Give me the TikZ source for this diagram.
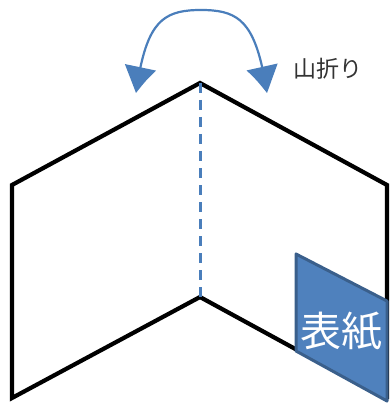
\documentclass[tikz,border=0pt]{standalone}
\usepackage{fontspec}
\newfontfamily\cjk{Noto Sans CJK JP}
\usetikzlibrary{arrows.meta,bending}
\definecolor{mblue}{HTML}{4F81BD}
\definecolor{mbluedark}{HTML}{3A5F8B}
\definecolor{arcblue}{HTML}{4A7EBB}
\tikzset{
  fold/.style={line width=4.2pt, line join=miter, black},
  valley/.style={line width=3pt, arcblue, dash pattern=on 10pt off 7pt},
  turn/.style={line width=2.2pt, arcblue, {Triangle[bend,length=28pt,width=31pt]}-{Triangle[bend,length=28pt,width=31pt]}},
}
\begin{document}
\begin{tikzpicture}[x=1pt,y=-1pt]
\useasboundingbox (0,0) rectangle (389,403);
% outline
\coordinate (top) at (200,83);
\coordinate (lt) at (12,185);
\coordinate (lb) at (12,398);
\coordinate (mb) at (200,297);
\coordinate (rt) at (387,185);
\coordinate (rb) at (387,399);
\draw[fold] (mb) -- (lb) -- (lt) -- (top) -- (rt) -- (rb);
\draw[fold] (mb) -- (rb);
% dashed fold line
\draw[valley] (top) -- (mb);
% cover
\coordinate (c1) at (296,254);
\coordinate (c2) at (387,301);
\coordinate (c3) at (387,401);
\coordinate (c4) at (296,351);
\draw[line width=3pt, mbluedark, fill=mblue, line join=round] (c1) -- (c2) -- (c3) -- (c4) -- cycle;
\node[text=white, font=\cjk\fontsize{41}{41}\selectfont, inner sep=0pt] (cover) at (341,331) {表紙};
% arc arrow
\coordinate (al) at (136,93);
\coordinate (apex) at (201,10);
\coordinate (ar) at (267,93);
\draw[turn] (al) .. controls (146,22) and (162,10) .. (apex) .. controls (240,10) and (256,22) .. (ar);
\node[text=black!80, font=\cjk\fontsize{23}{23}\selectfont, inner sep=0pt, anchor=west] (label) at (293,69) {山折り};
\end{tikzpicture}
\end{document}
